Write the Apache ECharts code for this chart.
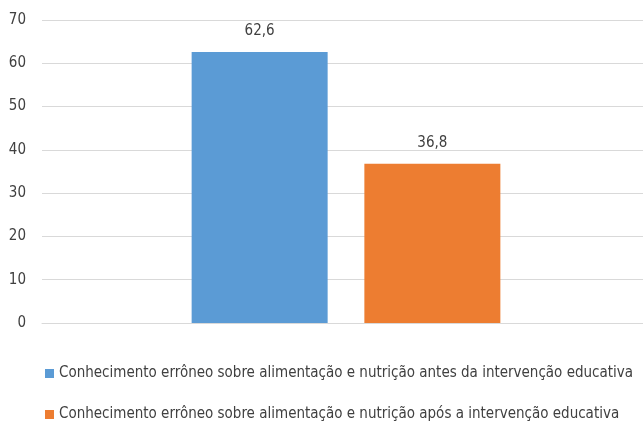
<!DOCTYPE html>
<html>
<head>
<meta charset="utf-8">
<script src="https://cdn.jsdelivr.net/npm/echarts@6/dist/echarts.min.js"></script>
<style>
  html, body { margin: 0; padding: 0; background: #fff; }
  #chart { width: 643px; height: 422px; }
</style>
</head>
<body>
<div id="chart"></div>
<script>
// data
var categories = [''];
var seriesNames = [
    'Conhecimento errôneo sobre alimentação e nutrição antes da intervenção educativa',
    'Conhecimento errôneo sobre alimentação e nutrição após a intervenção educativa'
];
var antesValues = [62.6];
var aposValues = [36.8];
var colors = ['#5b9bd5', '#ed7d31'];

var font = '"Liberation Sans Narrow", "DejaVu Sans Condensed", sans-serif';

var chart = echarts.init(document.getElementById('chart'));

function commaLabel(p) {
    return String(p.value).replace('.', ',');
}

function legendFor(name, top) {
    return {
        left: 45,
        top: top,
        padding: 0,
        itemWidth: 9,
        itemHeight: 9,
        icon: 'rect',
        textStyle: {
            fontFamily: font,
            fontSize: 15,
            color: '#404040'
        },
        data: [name]
    };
}

var barLabel = {
    show: true,
    position: 'top',
    distance: 13,
    fontFamily: font,
    fontSize: 15,
    color: '#404040',
    formatter: commaLabel
};

var option = {
    animation: false,
    grid: {
        left: 42,
        right: -7,
        top: 20,
        bottom: 99,
        outerBoundsMode: 'none'
    },
    legend: [
        legendFor(seriesNames[0], 366),
        legendFor(seriesNames[1], 407)
    ],
    xAxis: {
        type: 'category',
        data: categories,
        axisLine: { lineStyle: { color: '#d9d9d9' } },
        axisTick: { show: false },
        axisLabel: { show: false }
    },
    yAxis: {
        type: 'value',
        min: 0,
        max: 70,
        interval: 10,
        axisLine: { show: false },
        axisTick: { show: false },
        axisLabel: {
            fontFamily: font,
            fontSize: 15,
            color: '#404040',
            margin: 16
        },
        splitLine: { lineStyle: { color: '#d9d9d9', width: 1 } }
    },
    series: [
        {
            name: seriesNames[0],
            type: 'bar',
            data: antesValues,
            barWidth: 136,
            barGap: '27%',
            itemStyle: { color: colors[0] },
            label: barLabel
        },
        {
            name: seriesNames[1],
            type: 'bar',
            data: aposValues,
            barWidth: 136,
            barGap: '27%',
            itemStyle: { color: colors[1] },
            label: barLabel
        }
    ]
};

chart.setOption(option);
</script>
</body>
</html>
